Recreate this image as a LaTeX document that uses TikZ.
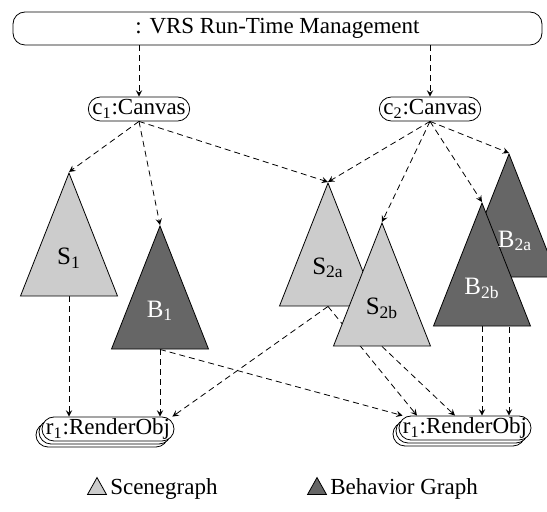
\documentclass[tikz,border=0pt]{standalone}
\usepackage{fontspec}
\setmainfont{Liberation Serif}
\usetikzlibrary{shapes.geometric,shadows,backgrounds,positioning,arrows}

\begin{document}
\begin{tikzpicture}[x=0.5pt, y=-0.5pt, font=\fontsize{11.5}{13}\selectfont,
    link/.style={->, >=stealth, dash pattern=on 3pt off 2pt},
    box/.style={draw, fill=white, rounded corners=6pt, minimum height=12pt, inner xsep=2pt, inner ysep=0pt},
    stack/.style={box, double copy shadow={shadow xshift=-1.5pt, shadow yshift=-1.5pt}},
    tree/.style={draw, isosceles triangle, shape border rotate=90, isosceles triangle stretches,
                 minimum width=48.5pt, minimum height=61.5pt, inner sep=0pt, anchor=apex},
    legtree/.style={draw, isosceles triangle, shape border rotate=90, isosceles triangle stretches,
                 minimum width=9.5pt, minimum height=8.5pt, inner sep=0pt},
    sgfill/.style={fill=black!20},
    bgfill/.style={fill=black!60},
    treetxt/.style={inner sep=0pt, font=\fontsize{12.5}{14}\selectfont}]
    \useasboundingbox (0,0) rectangle (547,512);

    \node[box, rounded corners=6pt, minimum width=264.5pt, minimum height=16.5pt] (vrs) at (277.5,28.5) {: VRS Run-Time Management};
    \node[box] (cvs1) at (139,109) {c\textsubscript{1}:Canvas};
    \node[box] (cvs2) at (430,109) {c\textsubscript{2}:Canvas};

    \node[tree, sgfill] (sg1) at (69,172) {};
    \node[tree, bgfill] (bg1) at (160,225) {};
    \node[tree, sgfill] (sg2a) at (328,182) {};
    \node[tree, sgfill] (sg2b) at (382,222) {};
    \node[tree, bgfill] (bg2a) at (509,153) {};
    \node[tree, bgfill] (bg2b) at (482,202) {};

    \node[treetxt] (sg1txt) at ([yshift=-43pt]sg1.apex) {S\textsubscript{1}};
    \node[treetxt, white] (bg1txt) at ([yshift=-43pt]bg1.apex) {B\textsubscript{1}};
    \node[treetxt] (sg2atxt) at ([yshift=-43pt]sg2a.apex) {S\textsubscript{2a}};
    \node[treetxt] (sg2btxt) at ([yshift=-43pt]sg2b.apex) {S\textsubscript{2b}};
    \node[treetxt, white] (bg2atxt) at ([yshift=-44pt,xshift=3pt]bg2a.apex) {B\textsubscript{2a}};
    \node[treetxt, white] (bg2btxt) at ([yshift=-43pt]bg2b.apex) {B\textsubscript{2b}};

    \node[stack] (rnd1) at (108,429) {r\textsubscript{1}:RenderObj};
    \node[stack] (rnd2) at (465,428) {r\textsubscript{1}:RenderObj};

    % legend
    \node[legtree, sgfill] (legsg) at (97,489) {};
    \node[right=3pt of legsg, inner sep=0pt] (legsgtxt) {Scenegraph};
    \node[legtree, bgfill] (legbg) at (317,489) {};
    \node[right=3pt of legbg, inner sep=0pt] (legbgtxt) {Behavior Graph};

    \draw[link] (vrs.south -| cvs1.north) -- (cvs1.north);
    \draw[link] (vrs.south -| cvs2.north) -- (cvs2.north);

    \draw[link] (cvs1.south) -- (sg1.apex);
    \draw[link] (cvs1.south) -- (bg1.apex);
    \draw[link] (cvs1.south) -- (sg2a.apex);
    \draw[link] (cvs2.south) -- (sg2a.apex);
    \draw[link] (cvs2.south) -- (sg2b.apex);
    \draw[link] (cvs2.south) -- (bg2b.apex);
    \draw[link] (cvs2.south) -- (bg2a.apex);

    \begin{pgfonlayer}{background}
    \draw[link] (sg1.south) -- (sg1.south |- rnd1.north);
    \draw[link] (bg1.south) -- (bg1.south |- rnd1.north);
    \draw[link] (sg2a.south) -- ([xshift=-1pt]rnd1.north east);
    \draw[link] (bg1.south) -- ([xshift=2pt]rnd2.north west);
    \draw[link] (sg2a.south) -- ([xshift=-24pt]rnd2.north);
    \draw[link] (sg2b.south) -- ([xshift=-5pt]rnd2.north);
    \draw[link] (bg2b.south) -- (bg2b.south |- rnd2.north);
    \draw[link] (bg2a.south) -- (bg2a.south |- rnd2.north);
    \end{pgfonlayer}
\end{tikzpicture}
\end{document}
